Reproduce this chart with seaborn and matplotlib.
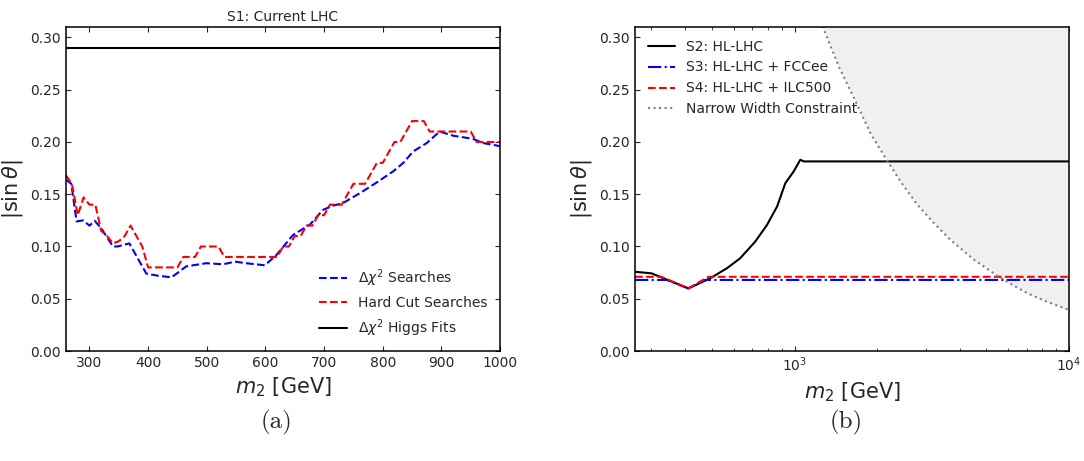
import matplotlib
matplotlib.use("Agg")
import matplotlib.pyplot as plt
import numpy as np
import pandas as pd
import seaborn as sns

# panel (a): current LHC
m_blue = [260, 269, 278, 289, 300, 309, 320, 340, 348, 368, 397, 417, 440, 465, 499,
          528, 548, 567, 599, 619, 647, 676, 698, 715, 732, 761, 789, 818, 835, 852,
          875, 897, 920, 954, 971, 1000]
s_blue = [0.164, 0.160, 0.124, 0.125, 0.120, 0.1245, 0.1175, 0.100, 0.100, 0.103, 0.074,
          0.072, 0.0705, 0.081, 0.084, 0.083, 0.0855, 0.084, 0.082, 0.092, 0.111, 0.121,
          0.135, 0.139, 0.1415, 0.151, 0.161, 0.172, 0.180, 0.191, 0.199, 0.210, 0.206,
          0.203, 0.199, 0.196]

m_red = [260, 270, 280, 290, 300, 310, 320, 330, 340, 350, 360, 370, 380, 390, 400, 450,
         460, 480, 490, 520, 530, 620, 630, 640, 650, 660, 670, 680, 690, 700, 710, 730,
         740, 750, 770, 780, 790, 800, 810, 820, 830, 840, 850, 870, 880, 950, 960, 1000]
s_red = [0.168, 0.160, 0.130, 0.147, 0.140, 0.140, 0.115, 0.110, 0.103, 0.105, 0.110,
         0.120, 0.110, 0.100, 0.080, 0.080, 0.090, 0.090, 0.100, 0.100, 0.090, 0.090,
         0.100, 0.100, 0.110, 0.110, 0.120, 0.120, 0.130, 0.130, 0.140, 0.140, 0.150,
         0.160, 0.160, 0.170, 0.180, 0.180, 0.190, 0.200, 0.200, 0.210, 0.220, 0.220,
         0.210, 0.210, 0.200, 0.200]

m_fit = [260, 1000]
s_fit = [0.29, 0.29]

# panel (b): future colliders
m_s2 = [262, 301, 410, 492, 566, 633, 718, 793, 863, 925, 992, 1049, 1079, 10000]
s_s2 = [0.0758, 0.0743, 0.0599, 0.0695, 0.0791, 0.0887, 0.1046, 0.1206, 0.1382, 0.1606,
        0.1718, 0.1830, 0.1814, 0.1814]
m_s3 = [262, 342, 410, 472, 10000]
s_s3 = [0.068, 0.068, 0.0599, 0.068, 0.068]
m_s4 = [262, 327, 410, 485, 10000]
s_s4 = [0.071, 0.071, 0.0599, 0.071, 0.071]
m_nw = [1265, 1276, 1450, 1667, 1900, 2176, 2450, 2800, 3200, 3707, 4500, 5490, 6200,
        7063, 8300, 9890, 10000]
s_nw = [0.311, 0.308, 0.272, 0.239, 0.207, 0.182, 0.161, 0.140, 0.123, 0.106, 0.0875,
        0.0717, 0.0635, 0.0551, 0.0472, 0.0397, 0.0394]

sns.set_style("ticks", {"xtick.direction": "in", "ytick.direction": "in",
                        "xtick.top": True, "ytick.right": True})
plt.rcParams["font.family"] = ["DejaVu Sans"]

fig = plt.figure(figsize=(10.84, 4.61), dpi=100)
ax1 = fig.add_axes([0.0609, 0.2386, 0.4004, 0.7028])
ax2 = fig.add_axes([0.5858, 0.2386, 0.4004, 0.7028])

sns.lineplot(x=m_blue, y=s_blue, ax=ax1, color="blue", linestyle="--", lw=1.5,
             label=r"$\Delta\chi^2$ Searches")
sns.lineplot(x=m_red, y=s_red, ax=ax1, color="red", linestyle="--", lw=1.5,
             label="Hard Cut Searches")
sns.lineplot(x=m_fit, y=s_fit, ax=ax1, color="black", lw=1.5,
             label=r"$\Delta\chi^2$ Higgs Fits")
ax1.set_xlim(260, 1000)
ax1.set_ylim(0, 0.31)
ax1.set_xticks(range(300, 1001, 100))
ax1.set_yticks(np.arange(0, 0.301, 0.05))
ax1.set_title("S1: Current LHC", fontsize=10, pad=4)
ax1.legend(loc="lower right", frameon=False, fontsize=10)

nw = pd.DataFrame({"m": m_nw, "s": s_nw})
ax2.fill_between(nw["m"], nw["s"], 0.31, color="#f0f0f0", lw=0)
sns.lineplot(x=m_s2, y=s_s2, ax=ax2, color="black", lw=1.5, label="S2: HL-LHC")
sns.lineplot(x=m_s3, y=s_s3, ax=ax2, color="blue", linestyle="-.", lw=1.5,
             label="S3: HL-LHC + FCCee")
sns.lineplot(x=m_s4, y=s_s4, ax=ax2, color="red", linestyle="--", lw=1.5,
             label="S4: HL-LHC + ILC500")
sns.lineplot(data=nw, x="m", y="s", ax=ax2, color="gray", linestyle=":", lw=1.5,
             label="Narrow Width Constraint")
ax2.set_xscale("log")
ax2.set_xlim(262, 10000)
ax2.set_ylim(0, 0.31)
ax2.set_yticks(np.arange(0, 0.301, 0.05))
ax2.legend(loc="upper left", frameon=False, fontsize=10)

for ax in (ax1, ax2):
    ax.set_xlabel(r"$m_2$ [GeV]", fontsize=15)
    ax.set_ylabel(r"$|\sin\theta|$", fontsize=15)
    ax.tick_params(which="both", direction="in", top=True, right=True, labelsize=10)
    for sp in ax.spines.values():
        sp.set_linewidth(1.1)
        sp.set_color("black")

fig.text(0.255, 0.083, "(a)", fontsize=18, family="cmr10", ha="center", va="center")
fig.text(0.781, 0.083, "(b)", fontsize=18, family="cmr10", ha="center", va="center")

fig.savefig("out.png", dpi=100)
